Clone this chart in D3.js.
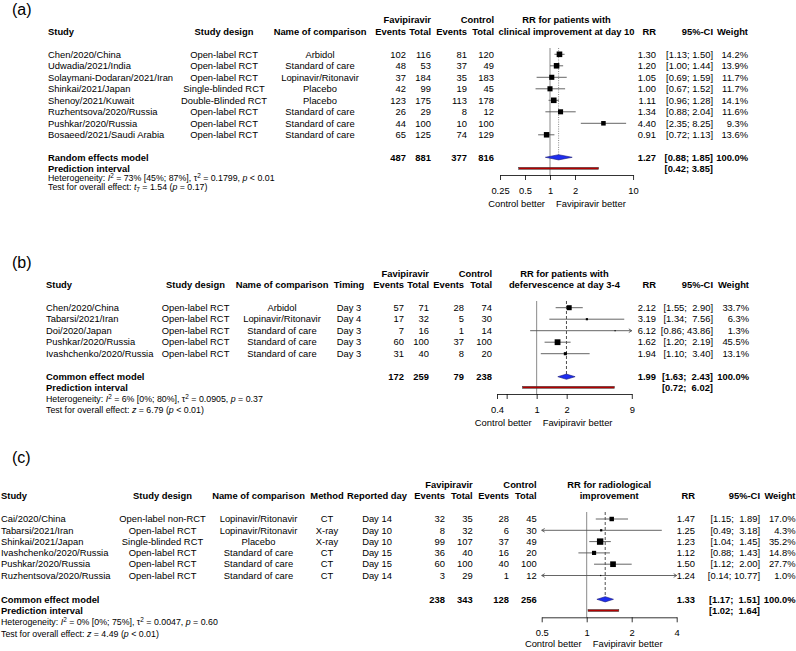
<!DOCTYPE html>
<html>
<head>
<meta charset="utf-8">
<script src="https://cdn.jsdelivr.net/npm/d3@7"></script>
<style>
  body { margin: 0; background: #fff; }
  svg { font-family: "Liberation Sans", Arial, sans-serif; }
  text { white-space: pre; fill: #000; }
</style>
</head>
<body>
<div id="chart"></div>
<script>
// ---- data: panel (a) clinical improvement at day 10
const studyA = ["Chen/2020/China", "Udwadia/2021/India", "Solaymani-Dodaran/2021/Iran", "Shinkai/2021/Japan",
  "Shenoy/2021/Kuwait", "Ruzhentsova/2020/Russia", "Pushkar/2020/Russia", "Bosaeed/2021/Saudi Arabia"];
const designA = ["Open-label RCT", "Open-label RCT", "Open-label RCT", "Single-blinded RCT",
  "Double-Blinded RCT", "Open-label RCT", "Open-label RCT", "Open-label RCT"];
const compA = ["Arbidol", "Standard of care", "Lopinavir/Ritonavir", "Placebo", "Placebo",
  "Standard of care", "Standard of care", "Standard of care"];
const favEventsA = [102, 48, 37, 42, 123, 26, 44, 65];
const favTotalA = [116, 53, 184, 99, 175, 29, 100, 125];
const ctlEventsA = [81, 37, 35, 19, 113, 8, 10, 74];
const ctlTotalA = [120, 49, 183, 45, 178, 12, 100, 129];
const rrA = [1.30, 1.20, 1.05, 1.00, 1.11, 1.34, 4.40, 0.91];
const lowA = [1.13, 1.00, 0.69, 0.67, 0.96, 0.88, 2.35, 0.72];
const highA = [1.50, 1.44, 1.59, 1.52, 1.28, 2.04, 8.25, 1.13];
const weightA = [14.2, 13.9, 11.7, 11.7, 14.1, 11.6, 9.3, 13.6];
const ticksA = [0.25, 0.5, 1, 2, 10];
const tickLabelsA = ["0.25", "0.5", "1", "2", "10"];

// ---- data: panel (b) defervescence at day 3-4
const studyB = ["Chen/2020/China", "Tabarsi/2021/Iran", "Doi/2020/Japan", "Pushkar/2020/Russia", "Ivashchenko/2020/Russia"];
const designB = ["Open-label RCT", "Open-label RCT", "Open-label RCT", "Open-label RCT", "Open-label RCT"];
const compB = ["Arbidol", "Lopinavir/Ritonavir", "Standard of care", "Standard of care", "Standard of care"];
const timingB = ["Day 3", "Day 4", "Day 3", "Day 3", "Day 3"];
const favEventsB = [57, 17, 7, 60, 31];
const favTotalB = [71, 32, 16, 100, 40];
const ctlEventsB = [28, 5, 1, 37, 8];
const ctlTotalB = [74, 30, 14, 100, 20];
const rrB = [2.12, 3.19, 6.12, 1.62, 1.94];
const lowB = [1.55, 1.34, 0.86, 1.20, 1.10];
const highB = [2.90, 7.56, 43.86, 2.19, 3.40];
const weightB = [33.7, 6.3, 1.3, 45.5, 13.1];
const ticksB = [0.4, 0.5, 1, 2, 9];
const tickLabelsB = ["0.4", "", "1", "2", "9"];

// ---- data: panel (c) radiological improvement
const studyC = ["Cai/2020/China", "Tabarsi/2021/Iran", "Shinkai/2021/Japan", "Ivashchenko/2020/Russia",
  "Pushkar/2020/Russia", "Ruzhentsova/2020/Russia"];
const designC = ["Open-label non-RCT", "Open-label RCT", "Single-blinded RCT", "Open-label RCT", "Open-label RCT", "Open-label RCT"];
const compC = ["Lopinavir/Ritonavir", "Lopinavir/Ritonavir", "Placebo", "Standard of care", "Standard of care", "Standard of care"];
const methodC = ["CT", "X-ray", "X-ray", "CT", "CT", "CT"];
const dayC = ["Day 14", "Day 10", "Day 10", "Day 15", "Day 15", "Day 14"];
const favEventsC = [32, 8, 99, 36, 60, 3];
const favTotalC = [35, 32, 107, 40, 100, 29];
const ctlEventsC = [28, 6, 37, 16, 40, 1];
const ctlTotalC = [45, 30, 49, 20, 100, 12];
const rrC = [1.47, 1.25, 1.23, 1.12, 1.50, 1.24];
const lowC = [1.15, 0.49, 1.04, 0.88, 1.12, 0.14];
const highC = [1.89, 3.18, 1.45, 1.43, 2.00, 10.77];
const weightC = [17.0, 4.3, 35.2, 14.8, 27.7, 1.0];
const ticksC = [0.5, 1, 2, 4];
const tickLabelsC = ["0.5", "1", "2", "4"];

// ---- pooled results (a, b, c)
const modelNames = ["Random effects model", "Common effect model", "Common effect model"];
const pooledFavE = [487, 172, 238];
const pooledFavT = [881, 259, 343];
const pooledCtlE = [377, 79, 128];
const pooledCtlT = [816, 238, 256];
const pooledRR = [1.27, 1.99, 1.33];
const pooledLow = [0.88, 1.63, 1.17];
const pooledHigh = [1.85, 2.43, 1.51];
const predLow = [0.42, 0.72, 1.02];
const predHigh = [3.85, 6.02, 1.64];
const hetI2 = ["73% [45%; 87%]", "6% [0%; 80%]", "0% [0%; 75%]"];
const hetTau2 = ["0.1799", "0.0905", "0.0047"];
const hetP = ["< 0.01", "= 0.37", "= 0.60"];
const testSym = ["t", "z", "z"];
const testSub = ["7", "", ""];
const testVal = ["1.54", "6.79", "4.49"];
const testP = ["= 0.17", "< 0.01", "< 0.01"];
const outcomeLabels = [
  ["RR for patients with", "clinical improvement at day 10"],
  ["RR for patients with", "defervescence at day 3-4"],
  ["RR for radiological", "improvement"]
];

const width = 796, height = 651;
const svg = d3.select("#chart").append("svg")
  .attr("width", width).attr("height", height);

svg.append("rect").attr("width", width).attr("height", height).attr("fill", "#fff");

function addText(g, x, y, s, anchor = "start", bold = false, size = 9.4) {
  return g.append("text")
    .attr("x", x).attr("y", y).attr("dy", "0.35em")
    .attr("text-anchor", anchor)
    .style("font-size", size + "px")
    .style("font-weight", bold ? "bold" : "normal")
    .text(s);
}

function fmtCI(lo, hi, hiWidth) {
  let h = hi.toFixed(2);
  while (h.length < hiWidth) h = " " + h;
  return "[" + lo.toFixed(2) + "; " + h + "]";
}

function drawPanel(p) {
  const k = p.k;
  const g = svg.append("g");
  const rowY = i => p.row0 + i * p.step;

  addText(g, 12, p.labelY, p.label, "start", false, 16);

  // left table
  addText(g, p.studyX, p.h2, "Study", "start", true);
  p.studies.forEach((s, i) => addText(g, p.studyX, rowY(i), s));
  p.textCols.forEach(c => {
    addText(g, c.x, p.h2, c.head, "middle", true);
    c.values.forEach((v, i) => addText(g, c.x, rowY(i), v, "middle"));
  });

  addText(g, p.cols.favT, p.h1, "Favipiravir", "end", true);
  addText(g, p.cols.ctlT, p.h1, "Control", "end", true);
  const numCols = [
    { x: p.cols.favE, head: "Events", values: p.favE, total: pooledFavE[k] },
    { x: p.cols.favT, head: "Total", values: p.favT, total: pooledFavT[k] },
    { x: p.cols.ctlE, head: "Events", values: p.ctlE, total: pooledCtlE[k] },
    { x: p.cols.ctlT, head: "Total", values: p.ctlT, total: pooledCtlT[k] }
  ];
  numCols.forEach(c => {
    addText(g, c.x, p.h2, c.head, "end", true);
    c.values.forEach((v, i) => addText(g, c.x, rowY(i), String(v), "end"));
    addText(g, c.x, p.sumY, String(c.total), "end", true);
  });

  addText(g, p.studyX, p.sumY, modelNames[k], "start", true);
  addText(g, p.studyX, p.piY, "Prediction interval", "start", true);

  // heterogeneity and overall test
  const het = addText(g, p.studyX, p.hetY, "", "start", false, 8.8);
  het.append("tspan").text("Heterogeneity: ");
  het.append("tspan").style("font-style", "italic").text("I");
  het.append("tspan").attr("dy", -3).style("font-size", "6.4px").text("2");
  het.append("tspan").attr("dy", 3).text(" = " + hetI2[k] + ", \u03c4");
  het.append("tspan").attr("dy", -3).style("font-size", "6.4px").text("2");
  het.append("tspan").attr("dy", 3).text(" = " + hetTau2[k] + ", ");
  het.append("tspan").style("font-style", "italic").text("p");
  het.append("tspan").text(" " + hetP[k]);

  const test = addText(g, p.studyX, p.testY, "", "start", false, 8.8);
  test.append("tspan").text("Test for overall effect: ");
  test.append("tspan").style("font-style", "italic").text(testSym[k]);
  if (testSub[k]) {
    test.append("tspan").attr("dy", 2).style("font-size", "6.4px").text(testSub[k]);
    test.append("tspan").attr("dy", -2).text(" = " + testVal[k] + " (");
  } else {
    test.append("tspan").text(" = " + testVal[k] + " (");
  }
  test.append("tspan").style("font-style", "italic").text("p");
  test.append("tspan").text(" " + testP[k] + ")");

  // right table
  addText(g, p.cols.rr, p.h2, "RR", "end", true);
  addText(g, p.cols.ci, p.h2, "95%-CI", "end", true);
  addText(g, p.cols.w, p.h2, "Weight", "end", true);
  const hiWidth = d3.max(p.high, v => v.toFixed(2).length);
  p.rr.forEach((v, i) => {
    addText(g, p.cols.rr, rowY(i), v.toFixed(2), "end");
    addText(g, p.cols.ci, rowY(i), fmtCI(p.low[i], p.high[i], hiWidth), "end");
    addText(g, p.cols.w, rowY(i), p.weight[i].toFixed(1) + "%", "end");
  });
  addText(g, p.cols.rr, p.sumY, pooledRR[k].toFixed(2), "end", true);
  addText(g, p.cols.ci, p.sumY, fmtCI(pooledLow[k], pooledHigh[k], hiWidth), "end", true);
  addText(g, p.cols.w, p.sumY, "100.0%", "end", true);
  addText(g, p.cols.ci, p.piY, fmtCI(predLow[k], predHigh[k], hiWidth), "end", true);

  // forest plot
  const x = d3.scaleLog().base(2)
    .domain([p.ticks[0], p.ticks[p.ticks.length - 1]])
    .range(p.range);
  const [xMin, xMax] = x.domain();
  const mid = (p.range[0] + p.range[1]) / 2;
  addText(g, mid, p.h1, outcomeLabels[k][0], "middle", true);
  addText(g, mid, p.h2, outcomeLabels[k][1], "middle", true);

  g.append("line")
    .attr("x1", x(1)).attr("x2", x(1))
    .attr("y1", p.refTop).attr("y2", p.axisY)
    .attr("stroke", "#8a8a8a").attr("stroke-width", 1);

  const dh = 2.6;
  g.append("line")
    .attr("x1", x(pooledRR[k])).attr("x2", x(pooledRR[k]))
    .attr("y1", p.refTop).attr("y2", p.sumY - dh)
    .attr("stroke", p.random ? "#888" : "#222")
    .attr("stroke-width", p.random ? 1 : 0.8)
    .attr("stroke-dasharray", p.random ? "1,1.3" : "3,2");

  const maxW = d3.max(p.weight);
  p.rr.forEach((v, i) => {
    const y = rowY(i);
    const lo = Math.max(p.low[i], xMin), hi = Math.min(p.high[i], xMax);
    g.append("line")
      .attr("x1", x(lo)).attr("x2", x(hi)).attr("y1", y).attr("y2", y)
      .attr("stroke", "#555").attr("stroke-width", 0.9);
    if (p.low[i] < xMin) {
      const xb = x(xMin);
      g.append("path").attr("d", `M${xb + 3},${y - 1.8}L${xb},${y}L${xb + 3},${y + 1.8}`)
        .attr("fill", "none").attr("stroke", "#555").attr("stroke-width", 0.9);
    }
    if (p.high[i] > xMax) {
      const xb = x(xMax);
      g.append("path").attr("d", `M${xb - 3},${y - 1.8}L${xb},${y}L${xb - 3},${y + 1.8}`)
        .attr("fill", "none").attr("stroke", "#555").attr("stroke-width", 0.9);
    }
    const s = Math.max(p.sqMax * Math.sqrt(p.weight[i] / maxW), 1.2);
    g.append("rect")
      .attr("x", x(v) - s / 2).attr("y", y - s / 2)
      .attr("width", s).attr("height", s)
      .attr("fill", "#000");
  });

  // pooled diamond
  const y0 = p.sumY;
  g.append("polygon")
    .attr("points", [
      [x(pooledLow[k]), y0], [x(pooledRR[k]), y0 - dh],
      [x(pooledHigh[k]), y0], [x(pooledRR[k]), y0 + dh]
    ].map(d => d.join(",")).join(" "))
    .attr("fill", "#1e2ef0").attr("stroke", "#1a1a7a").attr("stroke-width", 0.6);

  // prediction interval
  g.append("rect")
    .attr("x", x(predLow[k])).attr("y", p.piY - 1)
    .attr("width", x(predHigh[k]) - x(predLow[k])).attr("height", 2)
    .attr("fill", "#b30000").attr("stroke", "#3a3a3a").attr("stroke-width", 0.5);

  // axis
  const axis = d3.axisBottom(x)
    .tickValues(p.ticks)
    .tickFormat((d, i) => p.tickLabels[i])
    .tickSizeInner(5).tickSizeOuter(0).tickPadding(7);
  const ax = g.append("g").attr("transform", `translate(0,${p.axisY})`).call(axis);
  ax.select(".domain").attr("stroke", "#000").attr("stroke-width", 0.8);
  ax.selectAll(".tick line").attr("stroke", "#000").attr("stroke-width", 0.8);
  ax.selectAll(".tick text")
    .style("font-size", "9.4px")
    .style("font-family", "'Liberation Sans', Arial, sans-serif")
    .attr("fill", "#000");

  addText(g, x(1) - 5, p.cbY, "Control better", "end");
  addText(g, x(1) + 6, p.cbY, "Favipiravir better", "start");
}

const panels = [
  {
    k: 0, label: "(a)", random: true,
    studies: studyA,
    textCols: [
      { head: "Study design", x: 224, values: designA },
      { head: "Name of comparison", x: 320, values: compA }
    ],
    favE: favEventsA, favT: favTotalA, ctlE: ctlEventsA, ctlT: ctlTotalA,
    rr: rrA, low: lowA, high: highA, weight: weightA,
    ticks: ticksA, tickLabels: tickLabelsA,
    range: [500, 633.05], sqMax: 5.6,
    studyX: 48,
    cols: { favE: 406, favT: 431, ctlE: 467, ctlT: 494, rr: 656, ci: 713, w: 748 },
    labelY: 9, h1: 20, h2: 31.7, row0: 54.3, step: 11.5,
    sumY: 157.3, piY: 168.3, hetY: 178.3, testY: 187,
    refTop: 48, axisY: 175, cbY: 203.3
  },
  {
    k: 1, label: "(b)", random: false,
    studies: studyB,
    textCols: [
      { head: "Study design", x: 195.5, values: designB },
      { head: "Name of comparison", x: 282, values: compB },
      { head: "Timing", x: 349, values: timingB }
    ],
    favE: favEventsB, favT: favTotalB, ctlE: ctlEventsB, ctlT: ctlTotalB,
    rr: rrB, low: lowB, high: highB, weight: weightB,
    ticks: ticksB, tickLabels: tickLabelsB,
    range: [497.0, 631.8], sqMax: 5.8,
    studyX: 46,
    cols: { favE: 404, favT: 429, ctlE: 464, ctlT: 492, rr: 656, ci: 713, w: 749 },
    labelY: 262, h1: 273.3, h2: 284.3, row0: 307.7, step: 11.5,
    sumY: 376.7, piY: 387.3, hetY: 399, testY: 410,
    refTop: 301, axisY: 394, cbY: 422.3
  },
  {
    k: 2, label: "(c)", random: false,
    studies: studyC,
    textCols: [
      { head: "Study design", x: 162.5, values: designC },
      { head: "Name of comparison", x: 258.5, values: compC },
      { head: "Method", x: 327, values: methodC },
      { head: "Reported day", x: 377, values: dayC }
    ],
    favE: favEventsC, favT: favTotalC, ctlE: ctlEventsC, ctlT: ctlTotalC,
    rr: rrC, low: lowC, high: highC, weight: weightC,
    ticks: ticksC, tickLabels: tickLabelsC,
    range: [541.7, 676.7], sqMax: 6.4,
    studyX: 1,
    cols: { favE: 445, favT: 472.7, ctlE: 509, ctlT: 536.7, rr: 695, ci: 760, w: 795.5 },
    labelY: 457, h1: 485, h2: 496, row0: 519, step: 11.3,
    sumY: 599.3, piY: 610.5, hetY: 622, testY: 634,
    refTop: 512, axisY: 617.3, cbY: 644
  }
];

panels.forEach(drawPanel);
</script>
</body>
</html>
